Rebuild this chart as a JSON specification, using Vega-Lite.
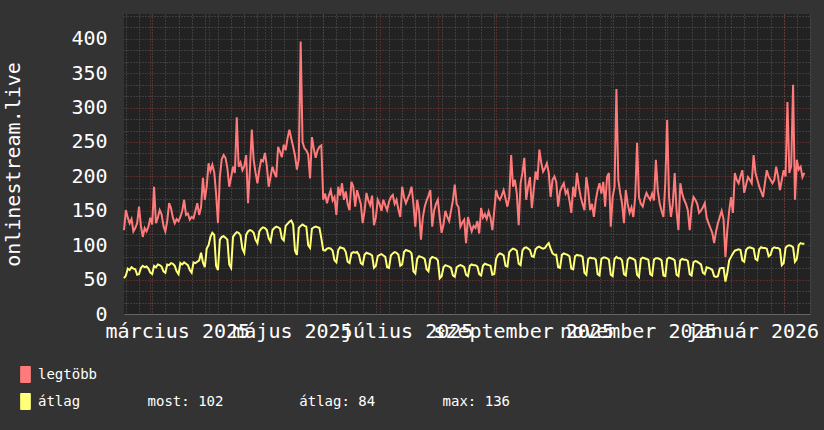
{
"$schema": "https://vega.github.io/schema/vega-lite/v6.json",
"width": 686, "height": 300,
"autosize": {"type": "none"},
"padding": {"left": 124, "top": 14, "right": 14, "bottom": 116},
"background": "#333333",
"config": {"view": {"fill": "#222222", "stroke": null}, "font": "DejaVu Sans Mono"},
"data": {"values": [
{"d":"2025-02-15","m":122,"a":52},{"d":"2025-02-16","m":151,"a":56},{"d":"2025-02-17","m":140,"a":66},{"d":"2025-02-18","m":132,"a":64},{"d":"2025-02-19","m":138,"a":68},{"d":"2025-02-20","m":120,"a":66},{"d":"2025-02-21","m":125,"a":65},{"d":"2025-02-22","m":132,"a":57},{"d":"2025-02-23","m":156,"a":58},{"d":"2025-02-24","m":128,"a":67},{"d":"2025-02-25","m":112,"a":70},{"d":"2025-02-26","m":125,"a":68},{"d":"2025-02-27","m":120,"a":69},{"d":"2025-02-28","m":127,"a":66},
{"d":"2025-03-01","m":140,"a":60},{"d":"2025-03-02","m":130,"a":58},{"d":"2025-03-03","m":185,"a":70},{"d":"2025-03-04","m":132,"a":68},{"d":"2025-03-05","m":140,"a":72},{"d":"2025-03-06","m":151,"a":71},{"d":"2025-03-07","m":145,"a":69},{"d":"2025-03-08","m":128,"a":62},{"d":"2025-03-09","m":120,"a":60},{"d":"2025-03-10","m":135,"a":72},{"d":"2025-03-11","m":161,"a":71},{"d":"2025-03-12","m":154,"a":74},{"d":"2025-03-13","m":140,"a":73},{"d":"2025-03-14","m":132,"a":70},{"d":"2025-03-15","m":138,"a":62},{"d":"2025-03-16","m":135,"a":58},{"d":"2025-03-17","m":141,"a":74},{"d":"2025-03-18","m":150,"a":72},{"d":"2025-03-19","m":166,"a":75},{"d":"2025-03-20","m":144,"a":73},{"d":"2025-03-21","m":146,"a":71},{"d":"2025-03-22","m":137,"a":64},{"d":"2025-03-23","m":141,"a":60},{"d":"2025-03-24","m":139,"a":75},{"d":"2025-03-25","m":150,"a":74},{"d":"2025-03-26","m":161,"a":76},{"d":"2025-03-27","m":144,"a":78},{"d":"2025-03-28","m":155,"a":89},{"d":"2025-03-29","m":198,"a":75},{"d":"2025-03-30","m":166,"a":68},{"d":"2025-03-31","m":185,"a":95},
{"d":"2025-04-01","m":219,"a":100},{"d":"2025-04-02","m":208,"a":112},{"d":"2025-04-03","m":217,"a":118},{"d":"2025-04-04","m":206,"a":115},{"d":"2025-04-05","m":175,"a":70},{"d":"2025-04-06","m":132,"a":64},{"d":"2025-04-07","m":199,"a":108},{"d":"2025-04-08","m":225,"a":112},{"d":"2025-04-09","m":231,"a":113},{"d":"2025-04-10","m":227,"a":111},{"d":"2025-04-11","m":212,"a":108},{"d":"2025-04-12","m":185,"a":72},{"d":"2025-04-13","m":199,"a":67},{"d":"2025-04-14","m":214,"a":112},{"d":"2025-04-15","m":205,"a":116},{"d":"2025-04-16","m":286,"a":119},{"d":"2025-04-17","m":214,"a":118},{"d":"2025-04-18","m":220,"a":114},{"d":"2025-04-19","m":209,"a":95},{"d":"2025-04-20","m":215,"a":89},{"d":"2025-04-21","m":231,"a":115},{"d":"2025-04-22","m":161,"a":120},{"d":"2025-04-23","m":210,"a":122},{"d":"2025-04-24","m":268,"a":121},{"d":"2025-04-25","m":224,"a":118},{"d":"2025-04-26","m":205,"a":108},{"d":"2025-04-27","m":190,"a":103},{"d":"2025-04-28","m":210,"a":120},{"d":"2025-04-29","m":224,"a":124},{"d":"2025-04-30","m":222,"a":126},
{"d":"2025-05-01","m":234,"a":125},{"d":"2025-05-02","m":215,"a":122},{"d":"2025-05-03","m":185,"a":110},{"d":"2025-05-04","m":200,"a":105},{"d":"2025-05-05","m":214,"a":122},{"d":"2025-05-06","m":205,"a":125},{"d":"2025-05-07","m":199,"a":127},{"d":"2025-05-08","m":243,"a":126},{"d":"2025-05-09","m":236,"a":124},{"d":"2025-05-10","m":228,"a":110},{"d":"2025-05-11","m":246,"a":107},{"d":"2025-05-12","m":238,"a":128},{"d":"2025-05-13","m":255,"a":131},{"d":"2025-05-14","m":268,"a":134},{"d":"2025-05-15","m":255,"a":136},{"d":"2025-05-16","m":243,"a":130},{"d":"2025-05-17","m":230,"a":92},{"d":"2025-05-18","m":210,"a":86},{"d":"2025-05-19","m":225,"a":125},{"d":"2025-05-20","m":396,"a":128},{"d":"2025-05-21","m":250,"a":130},{"d":"2025-05-22","m":241,"a":128},{"d":"2025-05-23","m":238,"a":127},{"d":"2025-05-24","m":232,"a":100},{"d":"2025-05-25","m":197,"a":96},{"d":"2025-05-26","m":257,"a":124},{"d":"2025-05-27","m":240,"a":126},{"d":"2025-05-28","m":227,"a":127},{"d":"2025-05-29","m":238,"a":126},{"d":"2025-05-30","m":243,"a":125},{"d":"2025-05-31","m":245,"a":110},
{"d":"2025-06-01","m":166,"a":93},{"d":"2025-06-02","m":175,"a":92},{"d":"2025-06-03","m":161,"a":95},{"d":"2025-06-04","m":172,"a":96},{"d":"2025-06-05","m":180,"a":95},{"d":"2025-06-06","m":165,"a":92},{"d":"2025-06-07","m":170,"a":78},{"d":"2025-06-08","m":144,"a":75},{"d":"2025-06-09","m":185,"a":93},{"d":"2025-06-10","m":172,"a":97},{"d":"2025-06-11","m":190,"a":96},{"d":"2025-06-12","m":166,"a":95},{"d":"2025-06-13","m":178,"a":90},{"d":"2025-06-14","m":160,"a":76},{"d":"2025-06-15","m":151,"a":74},{"d":"2025-06-16","m":192,"a":88},{"d":"2025-06-17","m":185,"a":90},{"d":"2025-06-18","m":156,"a":89},{"d":"2025-06-19","m":180,"a":90},{"d":"2025-06-20","m":170,"a":86},{"d":"2025-06-21","m":160,"a":74},{"d":"2025-06-22","m":132,"a":72},{"d":"2025-06-23","m":150,"a":86},{"d":"2025-06-24","m":176,"a":89},{"d":"2025-06-25","m":165,"a":88},{"d":"2025-06-26","m":158,"a":87},{"d":"2025-06-27","m":172,"a":85},{"d":"2025-06-28","m":129,"a":67},{"d":"2025-06-29","m":140,"a":70},{"d":"2025-06-30","m":166,"a":84},
{"d":"2025-07-01","m":160,"a":86},{"d":"2025-07-02","m":150,"a":87},{"d":"2025-07-03","m":166,"a":85},{"d":"2025-07-04","m":158,"a":83},{"d":"2025-07-05","m":151,"a":68},{"d":"2025-07-06","m":163,"a":67},{"d":"2025-07-07","m":170,"a":85},{"d":"2025-07-08","m":173,"a":88},{"d":"2025-07-09","m":160,"a":90},{"d":"2025-07-10","m":166,"a":89},{"d":"2025-07-11","m":152,"a":86},{"d":"2025-07-12","m":141,"a":70},{"d":"2025-07-13","m":185,"a":72},{"d":"2025-07-14","m":170,"a":90},{"d":"2025-07-15","m":161,"a":93},{"d":"2025-07-16","m":168,"a":92},{"d":"2025-07-17","m":175,"a":91},{"d":"2025-07-18","m":185,"a":88},{"d":"2025-07-19","m":160,"a":62},{"d":"2025-07-20","m":127,"a":59},{"d":"2025-07-21","m":166,"a":80},{"d":"2025-07-22","m":150,"a":84},{"d":"2025-07-23","m":108,"a":83},{"d":"2025-07-24","m":140,"a":82},{"d":"2025-07-25","m":156,"a":80},{"d":"2025-07-26","m":165,"a":65},{"d":"2025-07-27","m":172,"a":62},{"d":"2025-07-28","m":180,"a":80},{"d":"2025-07-29","m":127,"a":83},{"d":"2025-07-30","m":150,"a":82},{"d":"2025-07-31","m":160,"a":81},
{"d":"2025-08-01","m":166,"a":78},{"d":"2025-08-02","m":140,"a":52},{"d":"2025-08-03","m":118,"a":55},{"d":"2025-08-04","m":130,"a":68},{"d":"2025-08-05","m":150,"a":71},{"d":"2025-08-06","m":141,"a":70},{"d":"2025-08-07","m":135,"a":69},{"d":"2025-08-08","m":150,"a":67},{"d":"2025-08-09","m":165,"a":56},{"d":"2025-08-10","m":188,"a":54},{"d":"2025-08-11","m":160,"a":68},{"d":"2025-08-12","m":155,"a":70},{"d":"2025-08-13","m":127,"a":71},{"d":"2025-08-14","m":133,"a":70},{"d":"2025-08-15","m":137,"a":68},{"d":"2025-08-16","m":103,"a":57},{"d":"2025-08-17","m":141,"a":55},{"d":"2025-08-18","m":130,"a":70},{"d":"2025-08-19","m":120,"a":72},{"d":"2025-08-20","m":128,"a":71},{"d":"2025-08-21","m":125,"a":71},{"d":"2025-08-22","m":135,"a":69},{"d":"2025-08-23","m":117,"a":58},{"d":"2025-08-24","m":154,"a":56},{"d":"2025-08-25","m":140,"a":70},{"d":"2025-08-26","m":145,"a":73},{"d":"2025-08-27","m":138,"a":72},{"d":"2025-08-28","m":149,"a":71},{"d":"2025-08-29","m":140,"a":70},{"d":"2025-08-30","m":122,"a":57},{"d":"2025-08-31","m":150,"a":58},
{"d":"2025-09-01","m":180,"a":80},{"d":"2025-09-02","m":170,"a":86},{"d":"2025-09-03","m":166,"a":88},{"d":"2025-09-04","m":172,"a":87},{"d":"2025-09-05","m":180,"a":85},{"d":"2025-09-06","m":168,"a":70},{"d":"2025-09-07","m":156,"a":69},{"d":"2025-09-08","m":170,"a":90},{"d":"2025-09-09","m":231,"a":93},{"d":"2025-09-10","m":185,"a":95},{"d":"2025-09-11","m":195,"a":94},{"d":"2025-09-12","m":175,"a":92},{"d":"2025-09-13","m":129,"a":73},{"d":"2025-09-14","m":190,"a":71},{"d":"2025-09-15","m":205,"a":92},{"d":"2025-09-16","m":227,"a":96},{"d":"2025-09-17","m":166,"a":97},{"d":"2025-09-18","m":185,"a":95},{"d":"2025-09-19","m":199,"a":93},{"d":"2025-09-20","m":154,"a":84},{"d":"2025-09-21","m":180,"a":83},{"d":"2025-09-22","m":207,"a":94},{"d":"2025-09-23","m":195,"a":97},{"d":"2025-09-24","m":239,"a":98},{"d":"2025-09-25","m":220,"a":96},{"d":"2025-09-26","m":207,"a":95},{"d":"2025-09-27","m":212,"a":96},{"d":"2025-09-28","m":219,"a":100},{"d":"2025-09-29","m":205,"a":103},{"d":"2025-09-30","m":170,"a":95},
{"d":"2025-10-01","m":195,"a":88},{"d":"2025-10-02","m":200,"a":86},{"d":"2025-10-03","m":192,"a":86},{"d":"2025-10-04","m":156,"a":68},{"d":"2025-10-05","m":178,"a":67},{"d":"2025-10-06","m":185,"a":86},{"d":"2025-10-07","m":190,"a":88},{"d":"2025-10-08","m":175,"a":87},{"d":"2025-10-09","m":180,"a":86},{"d":"2025-10-10","m":165,"a":84},{"d":"2025-10-11","m":147,"a":66},{"d":"2025-10-12","m":185,"a":65},{"d":"2025-10-13","m":170,"a":84},{"d":"2025-10-14","m":205,"a":86},{"d":"2025-10-15","m":185,"a":85},{"d":"2025-10-16","m":170,"a":85},{"d":"2025-10-17","m":160,"a":83},{"d":"2025-10-18","m":151,"a":60},{"d":"2025-10-19","m":199,"a":57},{"d":"2025-10-20","m":180,"a":80},{"d":"2025-10-21","m":151,"a":82},{"d":"2025-10-22","m":160,"a":81},{"d":"2025-10-23","m":141,"a":81},{"d":"2025-10-24","m":165,"a":79},{"d":"2025-10-25","m":180,"a":58},{"d":"2025-10-26","m":190,"a":56},{"d":"2025-10-27","m":175,"a":80},{"d":"2025-10-28","m":192,"a":82},{"d":"2025-10-29","m":156,"a":82},{"d":"2025-10-30","m":199,"a":81},{"d":"2025-10-31","m":205,"a":79},
{"d":"2025-11-01","m":127,"a":57},{"d":"2025-11-02","m":170,"a":55},{"d":"2025-11-03","m":185,"a":80},{"d":"2025-11-04","m":327,"a":83},{"d":"2025-11-05","m":195,"a":81},{"d":"2025-11-06","m":176,"a":81},{"d":"2025-11-07","m":161,"a":78},{"d":"2025-11-08","m":132,"a":58},{"d":"2025-11-09","m":180,"a":56},{"d":"2025-11-10","m":160,"a":79},{"d":"2025-11-11","m":147,"a":82},{"d":"2025-11-12","m":155,"a":81},{"d":"2025-11-13","m":141,"a":80},{"d":"2025-11-14","m":170,"a":78},{"d":"2025-11-15","m":249,"a":57},{"d":"2025-11-16","m":170,"a":54},{"d":"2025-11-17","m":160,"a":80},{"d":"2025-11-18","m":156,"a":82},{"d":"2025-11-19","m":168,"a":81},{"d":"2025-11-20","m":176,"a":80},{"d":"2025-11-21","m":170,"a":79},{"d":"2025-11-22","m":166,"a":58},{"d":"2025-11-23","m":175,"a":56},{"d":"2025-11-24","m":165,"a":79},{"d":"2025-11-25","m":224,"a":81},{"d":"2025-11-26","m":180,"a":81},{"d":"2025-11-27","m":161,"a":80},{"d":"2025-11-28","m":150,"a":78},{"d":"2025-11-29","m":141,"a":56},{"d":"2025-11-30","m":190,"a":55},
{"d":"2025-12-01","m":282,"a":80},{"d":"2025-12-02","m":170,"a":82},{"d":"2025-12-03","m":141,"a":81},{"d":"2025-12-04","m":160,"a":80},{"d":"2025-12-05","m":205,"a":78},{"d":"2025-12-06","m":150,"a":57},{"d":"2025-12-07","m":122,"a":55},{"d":"2025-12-08","m":190,"a":78},{"d":"2025-12-09","m":175,"a":80},{"d":"2025-12-10","m":166,"a":79},{"d":"2025-12-11","m":160,"a":79},{"d":"2025-12-12","m":151,"a":77},{"d":"2025-12-13","m":122,"a":58},{"d":"2025-12-14","m":155,"a":56},{"d":"2025-12-15","m":170,"a":75},{"d":"2025-12-16","m":166,"a":77},{"d":"2025-12-17","m":160,"a":76},{"d":"2025-12-18","m":147,"a":74},{"d":"2025-12-19","m":150,"a":72},{"d":"2025-12-20","m":155,"a":60},{"d":"2025-12-21","m":161,"a":58},{"d":"2025-12-22","m":140,"a":68},{"d":"2025-12-23","m":132,"a":67},{"d":"2025-12-24","m":125,"a":66},{"d":"2025-12-25","m":118,"a":64},{"d":"2025-12-26","m":103,"a":55},{"d":"2025-12-27","m":120,"a":54},{"d":"2025-12-28","m":132,"a":55},{"d":"2025-12-29","m":141,"a":66},{"d":"2025-12-30","m":150,"a":67},{"d":"2025-12-31","m":138,"a":67},
{"d":"2026-01-01","m":83,"a":47},{"d":"2026-01-02","m":122,"a":60},{"d":"2026-01-03","m":150,"a":78},{"d":"2026-01-04","m":170,"a":83},{"d":"2026-01-05","m":147,"a":88},{"d":"2026-01-06","m":205,"a":92},{"d":"2026-01-07","m":195,"a":93},{"d":"2026-01-08","m":190,"a":94},{"d":"2026-01-09","m":200,"a":93},{"d":"2026-01-10","m":209,"a":78},{"d":"2026-01-11","m":176,"a":76},{"d":"2026-01-12","m":188,"a":93},{"d":"2026-01-13","m":199,"a":96},{"d":"2026-01-14","m":195,"a":97},{"d":"2026-01-15","m":190,"a":96},{"d":"2026-01-16","m":231,"a":95},{"d":"2026-01-17","m":205,"a":80},{"d":"2026-01-18","m":195,"a":78},{"d":"2026-01-19","m":185,"a":94},{"d":"2026-01-20","m":178,"a":97},{"d":"2026-01-21","m":170,"a":96},{"d":"2026-01-22","m":190,"a":96},{"d":"2026-01-23","m":209,"a":95},{"d":"2026-01-24","m":200,"a":84},{"d":"2026-01-25","m":195,"a":86},{"d":"2026-01-26","m":190,"a":95},{"d":"2026-01-27","m":195,"a":97},{"d":"2026-01-28","m":214,"a":96},{"d":"2026-01-29","m":200,"a":96},{"d":"2026-01-30","m":180,"a":94},{"d":"2026-01-31","m":195,"a":71},
{"d":"2026-02-01","m":209,"a":74},{"d":"2026-02-02","m":200,"a":96},{"d":"2026-02-03","m":308,"a":99},{"d":"2026-02-04","m":205,"a":100},{"d":"2026-02-05","m":215,"a":99},{"d":"2026-02-06","m":333,"a":97},{"d":"2026-02-07","m":166,"a":76},{"d":"2026-02-08","m":224,"a":80},{"d":"2026-02-09","m":210,"a":100},{"d":"2026-02-10","m":214,"a":103},{"d":"2026-02-11","m":199,"a":102},{"d":"2026-02-12","m":205,"a":102}
]},
"layer": [
{
"mark": {"type": "line", "strokeWidth": 2},
"encoding": {
"x": {"field": "d", "type": "temporal",
"scale": {"type": "utc", "domain": [{"year": 2025, "month": 2, "date": 15, "utc": true}, {"year": 2026, "month": 2, "date": 15, "utc": true}]},
"axis": {"orient": "bottom", "tickCount": {"interval": "week", "step": 1}, "grid": true, "gridColor": "#5a5a5a", "gridDash": [1, 2], "gridWidth": 1, "labels": false, "ticks": false, "domain": false, "title": null}},
"y": {"field": "m", "type": "quantitative",
"scale": {"domain": [0, 436], "nice": false},
"axis": {"orient": "left", "values": [0, 16.667, 33.333, 50, 66.667, 83.333, 100, 116.667, 133.333, 150, 166.667, 183.333, 200, 216.667, 233.333, 250, 266.667, 283.333, 300, 316.667, 333.333, 350, 366.667, 383.333, 400, 416.667, 433.333],
"grid": true, "gridColor": {"condition": {"test": "datum.value % 50 === 0", "value": "#8a3434"}, "value": "#5a5a5a"}, "gridDash": [1, 2], "gridWidth": 1,
"labelExpr": "datum.value % 50 === 0 ? format(datum.value, 'd') : ''", "labelOverlap": false, "labelFont": "DejaVu Sans Mono", "labelFontSize": 20, "labelColor": "#ffffff", "labelPadding": 17,
"ticks": false, "domain": false,
"title": "onlinestream.live", "titleFont": "DejaVu Sans Mono", "titleFontSize": 20, "titleFontWeight": "normal", "titleColor": "#ffffff", "titlePadding": 47}},
"color": {"datum": "legtöbb", "type": "nominal",
"scale": {"domain": ["legtöbb", "átlag"], "range": ["#ff7b7b", "#ffff78"]},
"legend": {"orient": "none", "legendX": -107, "legendY": 352, "direction": "vertical", "title": null, "padding": 0,
"symbolType": "M-0.6,-1H0.6V1H-0.6Z", "symbolSize": 256, "symbolStrokeWidth": 1, "symbolStrokeColor": "#000000",
"labelFont": "DejaVu Sans Mono", "labelFontSize": 14, "labelColor": "#ffffff", "labelOffset": 4, "labelLimit": 0, "rowPadding": 6,
"labelExpr": "datum.label === 'átlag' ? 'átlag\u00a0\u00a0\u00a0\u00a0\u00a0\u00a0\u00a0\u00a0most: 102\u00a0\u00a0\u00a0\u00a0\u00a0\u00a0\u00a0\u00a0\u00a0átlag: 84\u00a0\u00a0\u00a0\u00a0\u00a0\u00a0\u00a0\u00a0max: 136' : datum.label",
"encode": {"symbols": {"update": {"fill": {"scale": "color", "field": "value"}, "stroke": {"value": "#000000"}, "strokeWidth": {"value": 1}, "opacity": {"value": 1}}}}}}
}
},
{
"mark": {"type": "line", "strokeWidth": 2},
"encoding": {
"x": {"field": "d", "type": "temporal",
"axis": {"orient": "bottom", "tickCount": {"interval": "month", "step": 1}, "grid": true, "gridColor": "#8a3434", "gridDash": [1, 2], "gridWidth": 1,
"labelExpr": "indexof([2,4,6,8,10,0], utcmonth(datum.value)) >= 0 ? ['január','február','március','április','május','június','július','augusztus','szeptember','október','november','december'][utcmonth(datum.value)] + ' ' + utcyear(datum.value) : ''",
"labelOffset": 27, "labelFont": "DejaVu Sans Mono", "labelFontSize": 20, "labelColor": "#ffffff", "labelPadding": 7, "labelOverlap": false, "labelBound": false, "labelFlush": false, "labelLimit": 0,
"ticks": false, "domain": true, "domainColor": "#666666", "title": null}},
"y": {"field": "a", "type": "quantitative", "axis": null},
"color": {"datum": "átlag", "type": "nominal"}
}
}
],
"resolve": {"axis": {"x": "independent", "y": "independent"}}
}
